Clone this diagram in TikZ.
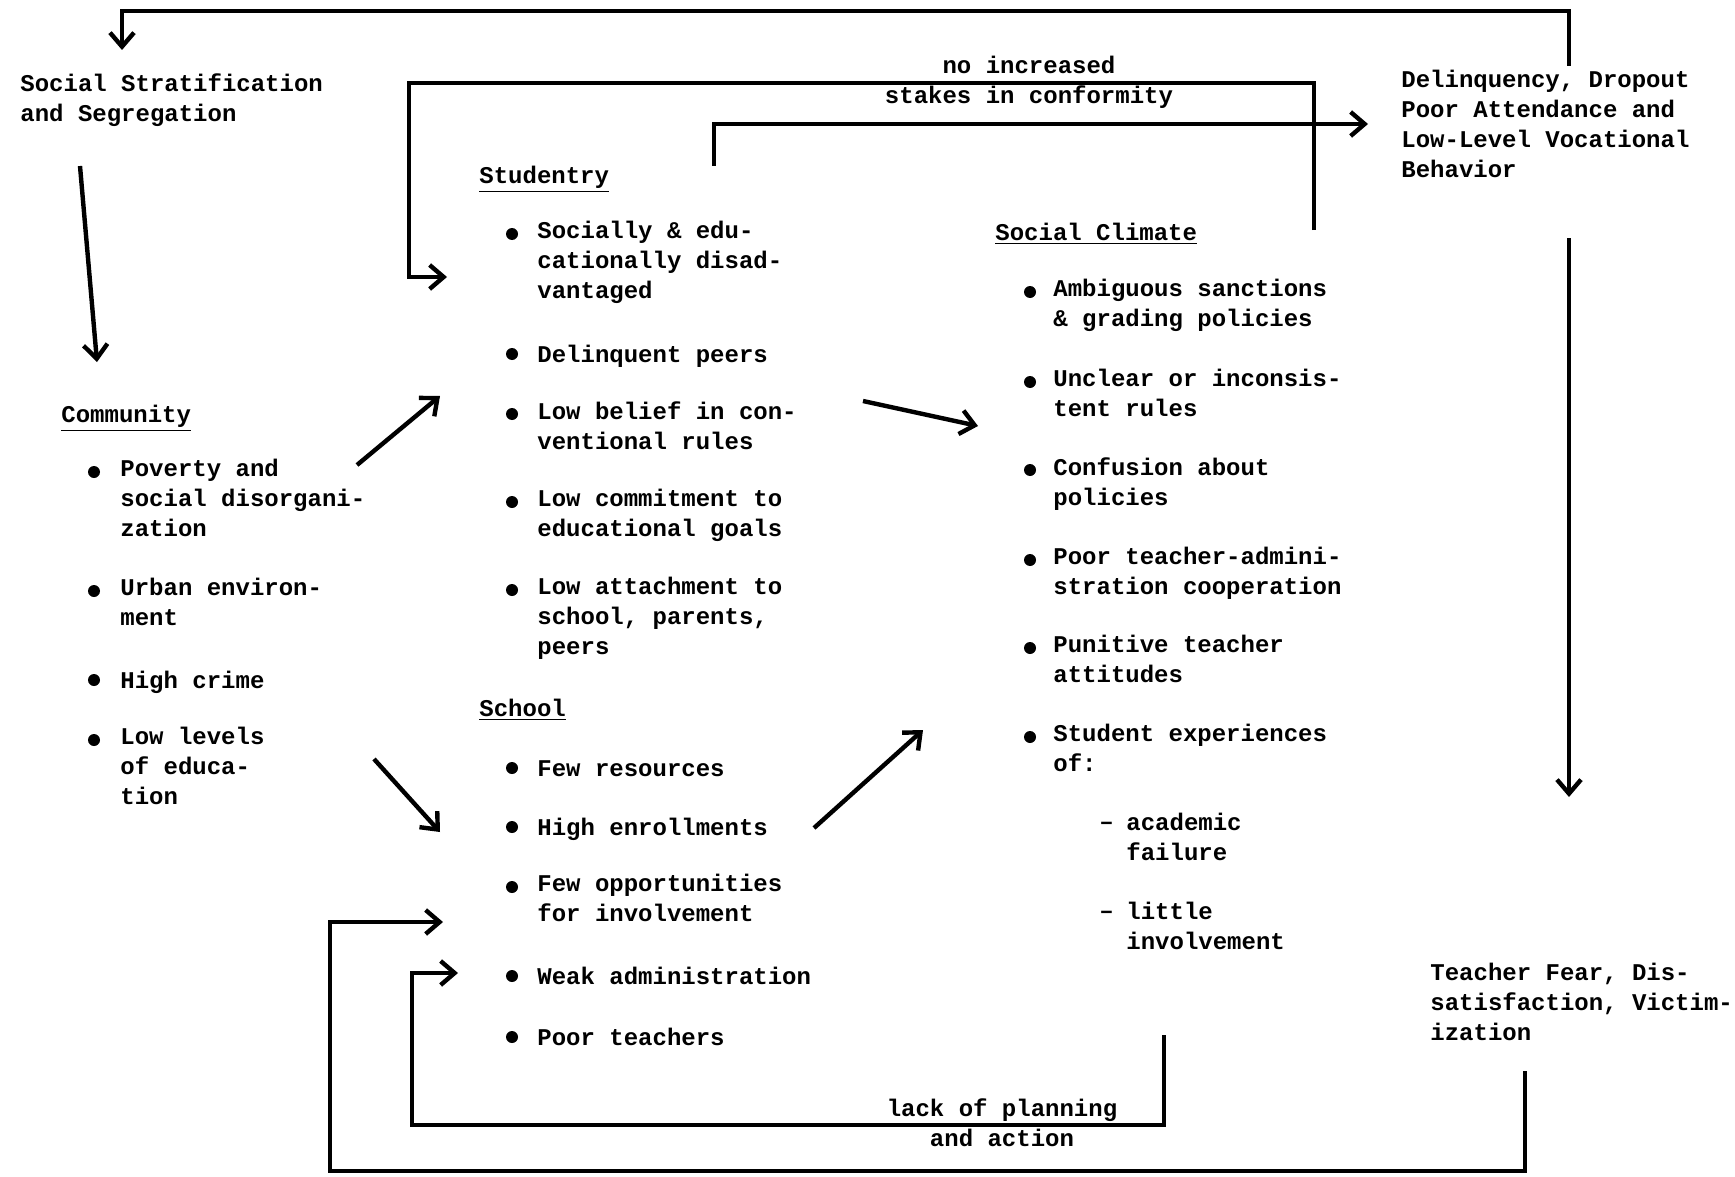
\documentclass[tikz,border=0pt]{standalone}
\usepackage{fontspec}
\setmonofont{Liberation Mono}
\usetikzlibrary{arrows.meta}

\tikzset{
    flecha/.style={line width=2.2pt,-{Straight Barb[length=7pt,width=12pt,line width=2.2pt]}},
    txt/.style={anchor=north west,inner sep=0pt,align=left,font=\ttfamily\bfseries\fontsize{12}{15}\selectfont,execute at begin node=\strut},
    lbl/.style={txt,anchor=north,align=center}
}

\begin{document}
\begin{tikzpicture}[x=0.5pt,y=-0.5pt]
    \useasboundingbox (0,0) rectangle (1735,1177);

    \def\dy{11}
    \def\rb{3pt}

    %Estratificacion
    \node[txt] (strat) at (20,84-\dy) {Social Stratification\\and Segregation};

    %Comunidad
    \node[txt] (comm) at (61,412-\dy) {\underline{Community}};
    \foreach \t/\y [count=\i] in {{Poverty and\\social disorgani-\\zation}/470,{Urban environ-\\ment}/589,{High crime}/678,{Low levels\\of educa-\\tion}/738}{
        \fill (94,\y+2) circle(\rb);
        \node[txt] (comm\i) at (120,\y-\dy) {\t};
    }

    %Estudiantes
    \node[txt] (stud) at (479,173-\dy) {\underline{Studentry}};
    \foreach \t/\y [count=\i] in {{Socially \& edu-\\cationally disad-\\vantaged}/232,{Delinquent peers}/352,{Low belief in con-\\ventional rules}/412,{Low commitment to\\educational goals}/500,{Low attachment to\\school, parents,\\peers}/588}{
        \fill (512,\y+2) circle(\rb);
        \node[txt] (stud\i) at (537,\y-\dy) {\t};
    }

    %Escuela
    \node[txt] (school) at (479,706-\dy) {\underline{School}};
    \foreach \t/\y [count=\i] in {{Few resources}/766,{High enrollments}/825,{Few opportunities\\for involvement}/885,{Weak administration}/974,{Poor teachers}/1035}{
        \fill (512,\y+2) circle(\rb);
        \node[txt] (school\i) at (537,\y-\dy) {\t};
    }

    %Clima
    \node[txt] (clim) at (995,230-\dy) {\underline{Social Climate}};
    \foreach \t/\y [count=\i] in {{Ambiguous sanctions\\\& grading policies}/290,{Unclear or inconsis-\\tent rules}/380,{Confusion about\\policies}/468,{Poor teacher-admini-\\stration cooperation}/558,{Punitive teacher\\attitudes}/646,{Student experiences\\of:}/735}{
        \fill (1030,\y+2) circle(\rb);
        \node[txt] (clim\i) at (1053,\y-\dy) {\t};
    }
    \foreach \t/\y [count=\i] in {{academic\\failure}/824,{little\\involvement}/913}{
        \node[txt] (dash\i) at (1099,\y-\dy) {\raisebox{2.5pt}{\textendash}};
        \node[txt] (exp\i) at (1126,\y-\dy) {\t};
    }

    %Resultados
    \node[txt] (del) at (1401,81-\dy) {Delinquency, Dropout\\Poor Attendance and\\Low-Level Vocational\\Behavior};
    \node[txt] (fear) at (1430,974-\dy) {Teacher Fear, Dis-\\satisfaction, Victim-\\ization};

    %Etiquetas
    \node[lbl] (stakes) at (1029,67-\dy) {no increased\\stakes in conformity};
    \node[lbl] (plan) at (1002,1109-\dy) {lack of planning\\and action};

    %Puntos
    \coordinate (t1) at (1569,66);   \coordinate (t2) at (1569,11);
    \coordinate (t3) at (122,11);    \coordinate (t4) at (122,50);
    \coordinate (s1) at (80,166);    \coordinate (s2) at (97,362);
    \coordinate (c1) at (357,465);   \coordinate (c2) at (440,396);
    \coordinate (c3) at (374,759);   \coordinate (c4) at (440,832);
    \coordinate (e1) at (863,401);   \coordinate (e2) at (978,426);
    \coordinate (e3) at (814,828);   \coordinate (e4) at (923,730);
    \coordinate (n1) at (1314,230);  \coordinate (n2) at (1314,83);
    \coordinate (n3) at (409,83);    \coordinate (n4) at (409,277);
    \coordinate (n5) at (447,277);
    \coordinate (d1) at (714,166);   \coordinate (d2) at (714,124);
    \coordinate (d3) at (1368,124);
    \coordinate (v1) at (1569,238);  \coordinate (v2) at (1569,797);
    \coordinate (b1) at (1525,1071); \coordinate (b2) at (1525,1171);
    \coordinate (b3) at (330,1171);  \coordinate (b4) at (330,922);
    \coordinate (b5) at (443,922);
    \coordinate (p1) at (1164,1035); \coordinate (p2) at (1164,1125);
    \coordinate (p3) at (412,1125);  \coordinate (p4) at (412,973);
    \coordinate (p5) at (458,973);

    %Flechas
    \draw[flecha] (t1) -- (t2) -- (t3) -- (t4);
    \draw[flecha] (s1) -- (s2);
    \draw[flecha] (c1) -- (c2);
    \draw[flecha] (c3) -- (c4);
    \draw[flecha] (e1) -- (e2);
    \draw[flecha] (e3) -- (e4);
    \draw[flecha] (n1) -- (n2) -- (n3) -- (n4) -- (n5);
    \draw[flecha] (d1) -- (d2) -- (d3);
    \draw[flecha] (v1) -- (v2);
    \draw[flecha] (b1) -- (b2) -- (b3) -- (b4) -- (b5);
    \draw[flecha] (p1) -- (p2) -- (p3) -- (p4) -- (p5);

\end{tikzpicture}
\end{document}
